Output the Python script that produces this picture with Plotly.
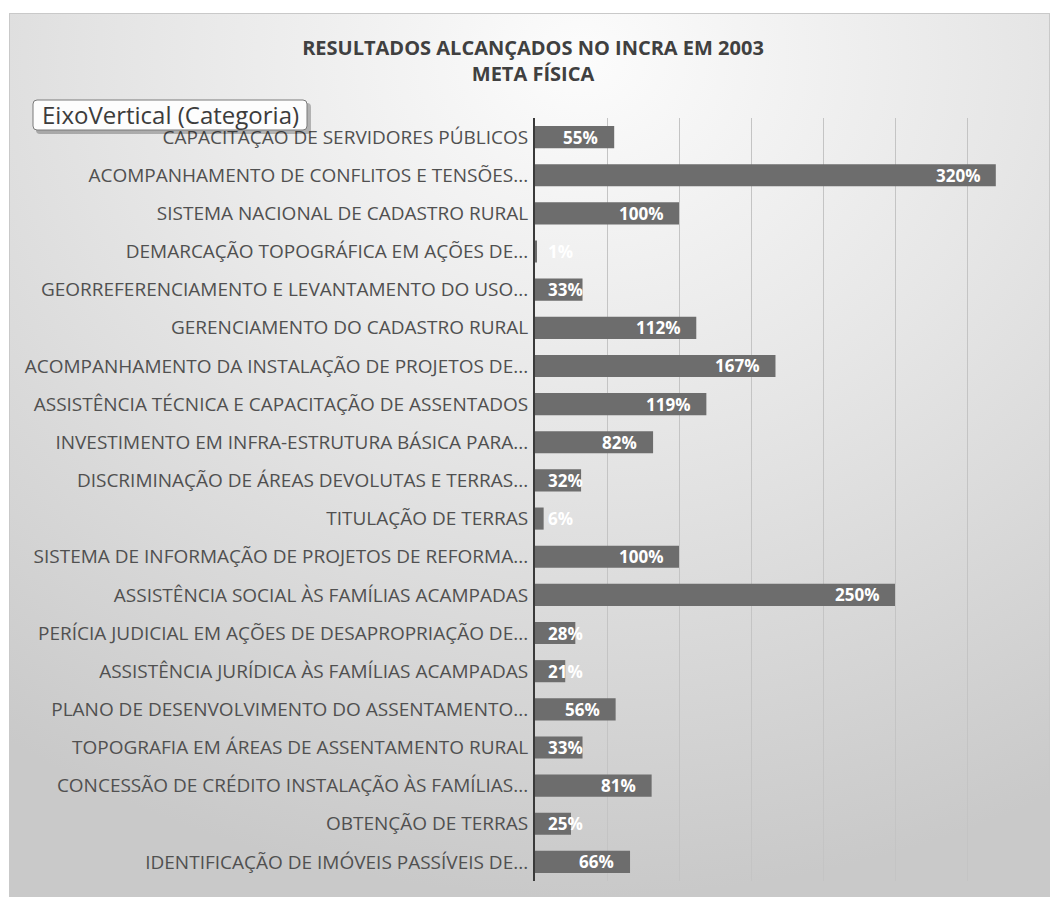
import base64
import plotly.graph_objects as go

categories = [
    "CAPACITAÇÃO DE SERVIDORES PÚBLICOS",
    "ACOMPANHAMENTO DE CONFLITOS E TENSÕES...",
    "SISTEMA NACIONAL DE CADASTRO RURAL",
    "DEMARCAÇÃO TOPOGRÁFICA EM AÇÕES DE...",
    "GEORREFERENCIAMENTO E LEVANTAMENTO DO USO...",
    "GERENCIAMENTO DO CADASTRO RURAL",
    "ACOMPANHAMENTO DA INSTALAÇÃO DE PROJETOS DE...",
    "ASSISTÊNCIA TÉCNICA E CAPACITAÇÃO DE ASSENTADOS",
    "INVESTIMENTO EM INFRA-ESTRUTURA BÁSICA PARA...",
    "DISCRIMINAÇÃO DE ÁREAS DEVOLUTAS E TERRAS...",
    "TITULAÇÃO DE TERRAS",
    "SISTEMA DE INFORMAÇÃO DE PROJETOS DE REFORMA...",
    "ASSISTÊNCIA SOCIAL ÀS FAMÍLIAS ACAMPADAS",
    "PERÍCIA JUDICIAL EM AÇÕES DE DESAPROPRIAÇÃO DE...",
    "ASSISTÊNCIA JURÍDICA ÀS FAMÍLIAS ACAMPADAS",
    "PLANO DE DESENVOLVIMENTO DO ASSENTAMENTO...",
    "TOPOGRAFIA EM ÁREAS DE ASSENTAMENTO RURAL",
    "CONCESSÃO DE CRÉDITO INSTALAÇÃO ÀS FAMÍLIAS...",
    "OBTENÇÃO DE TERRAS",
    "IDENTIFICAÇÃO DE IMÓVEIS PASSÍVEIS DE...",
]
values = [55, 320, 100, 1, 33, 112, 167, 119, 82, 32, 6, 100, 250, 28, 21, 56, 33, 81, 25, 66]
labels = [f"{v}%" for v in values]

title_text = "RESULTADOS ALCANÇADOS NO INCRA EM 2003<br>META FÍSICA"
tooltip_text = "EixoVertical (Categoria)"

W, H = 1052, 903
ML, MR, MT, MB = 535, 13, 118, 22
PW, PH = W - ML - MR, H - MT - MB


def px_x(p):
    return (p - ML) / PW


def px_y(p):
    return (H - MB - p) / PH


svg = """<svg xmlns='http://www.w3.org/2000/svg' width='1041' height='884' viewBox='0 0 1041 884' preserveAspectRatio='none'>
<defs><radialGradient id='g' cx='0.55' cy='0.05' r='0.95' fx='0.55' fy='0.05'>
<stop offset='0' stop-color='#fcfcfc'/><stop offset='0.45' stop-color='#e6e6e6'/>
<stop offset='1' stop-color='#c9c9c9'/></radialGradient></defs>
<rect x='0.5' y='0.5' width='1040' height='883' fill='url(#g)' stroke='#c9c9c9' stroke-width='1'/>
</svg>"""
svg_uri = "data:image/svg+xml;base64," + base64.b64encode(svg.encode()).decode()

fig = go.Figure()
fig.add_trace(go.Bar(
    x=values, y=categories, orientation="h",
    marker=dict(color="#6d6d6d", line=dict(width=0)),
    hoverinfo="skip",
))

annotations = []
for cat, v, lab in zip(categories, values, labels):
    if v < 40:
        annotations.append(dict(x=0, y=cat, xref="x", yref="y", text=f"<b>{lab}</b>",
                                showarrow=False, xanchor="left", xshift=11,
                                font=dict(family="Open Sans", size=17, color="white")))
    else:
        annotations.append(dict(x=v, y=cat, xref="x", yref="y", text=f"<b>{lab}</b>",
                                showarrow=False, xanchor="right", xshift=-14,
                                font=dict(family="Open Sans", size=17, color="white")))


def rrect(x0, y0, x1, y1, r):
    pts = [
        f"M {px_x(x0 + r)} {px_y(y0)}",
        f"L {px_x(x1 - r)} {px_y(y0)}",
        f"Q {px_x(x1)} {px_y(y0)} {px_x(x1)} {px_y(y0 + r)}",
        f"L {px_x(x1)} {px_y(y1 - r)}",
        f"Q {px_x(x1)} {px_y(y1)} {px_x(x1 - r)} {px_y(y1)}",
        f"L {px_x(x0 + r)} {px_y(y1)}",
        f"Q {px_x(x0)} {px_y(y1)} {px_x(x0)} {px_y(y1 - r)}",
        f"L {px_x(x0)} {px_y(y0 + r)}",
        f"Q {px_x(x0)} {px_y(y0)} {px_x(x0 + r)} {px_y(y0)}",
        "Z",
    ]
    return " ".join(pts)


shapes = [
    dict(type="path", xref="paper", yref="paper", path=rrect(36, 103, 311, 134, 4),
         fillcolor="rgba(0,0,0,0.25)", line=dict(width=0), layer="above"),
    dict(type="path", xref="paper", yref="paper", path=rrect(33, 100, 307, 130, 4),
         fillcolor="#fdfdfd", line=dict(color="#7a7a7a", width=1), layer="above"),
]
annotations.append(dict(x=px_x(40), y=px_y(115), xref="paper", yref="paper",
                        text=tooltip_text, showarrow=False, xanchor="left", yanchor="middle",
                        font=dict(family="Open Sans", size=24, color="#3c3c3c")))

fig.update_layout(
    width=W, height=H,
    margin=dict(l=ML, r=MR, t=MT, b=MB),
    paper_bgcolor="white",
    plot_bgcolor="rgba(0,0,0,0)",
    bargap=0.42,
    showlegend=False,
    title=dict(text=title_text, x=533 / W, xref="container", xanchor="center",
               y=1 - 55 / H, yref="container", yanchor="middle",
               font=dict(family="Open Sans", size=20, color="#404040", weight="bold")),
    xaxis=dict(range=[0, 350], dtick=50, showgrid=True, gridcolor="#c4c4c4", gridwidth=1,
               showticklabels=False, zeroline=False, showline=False, fixedrange=True),
    yaxis=dict(autorange="reversed", showline=True, linecolor="#3a3a3a", linewidth=2,
               ticks="", ticklabelstandoff=1, showgrid=False,
               tickfont=dict(family="Open Sans", size=19, color="#505050")),
    images=[dict(source=svg_uri, xref="paper", yref="paper", x=px_x(9), y=px_y(13),
                 sizex=(1050 - 9) / PW, sizey=(897 - 13) / PH, sizing="stretch",
                 xanchor="left", yanchor="top", layer="below")],
    shapes=shapes,
    annotations=annotations,
)

fig.write_html("out.html")
